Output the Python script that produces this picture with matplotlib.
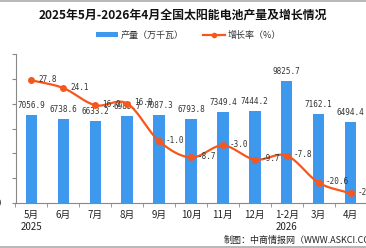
import numpy as np
import matplotlib
matplotlib.use("Agg")
import matplotlib.pyplot as plt
from matplotlib.lines import Line2D
from matplotlib.patches import Patch

plt.rcParams['font.family'] = ['Noto Sans CJK SC', 'DejaVu Sans']

months = ["5月\n2025", "6月", "7月", "8月", "9月", "10月", "11月", "12月", "1-2月\n2026", "3月", "4月"]
output = [7056.9, 6738.6, 6633.2, 6985.7, 7087.3, 6793.8, 7349.4, 7444.2, 9825.7, 7162.1, 6494.4]
growth = [27.8, 24.1, 16.0, 16.8, -1.0, -8.7, -3.0, -9.7, -7.8, -20.6, -25.6]
left_ticks = [0, 2000, 4000, 6000, 8000, 10000, 12000]

BAR = "#3d98ee"
LINE = "#f7561c"

W, H = 366, 248
fig = plt.figure(figsize=(W / 100, H / 100), dpi=100)
ax = fig.add_axes([15.5 / W, 1 - 203 / H, 1 - 15.5 / W + 0.5 / W, (203 - 54) / H])
x = np.arange(len(months))

ax.bar(x, output, width=0.36, color=BAR, zorder=2)
ax.set_xlim(-0.5, len(months) - 0.5)
ax.set_ylim(0, 12000)
ax.set_yticks(left_ticks)
ax.set_yticklabels([str(v) for v in left_ticks], fontsize=6.5, family='DejaVu Sans Mono', color='#333333')
ax.set_xticks(x)
ax.set_xticklabels(months, fontsize=7, color='#222222', linespacing=1.3)
ax.set_xticks(np.arange(-0.5, len(months) + 0.5, 1), minor=True)
ax.tick_params(axis='x', which='major', length=0, pad=5)
ax.tick_params(axis='x', which='minor', length=3, color='#888888', direction='out')
ax.tick_params(axis='y', length=3, color='#888888', pad=7.5)
for s in ['top', 'right']:
    ax.spines[s].set_visible(False)
for s in ['left', 'bottom']:
    ax.spines[s].set_color('#888888')
    ax.spines[s].set_linewidth(0.8)

for xi, v in zip(x, output):
    ax.annotate(f"{v:.1f}", (xi, v), xytext=(0, 5), textcoords='offset pixels',
                ha='center', va='bottom', fontsize=5.5, family='DejaVu Sans Mono', color='#333333', zorder=5)

ax2 = ax.twinx()
ax2.set_ylim(-30.2, 40.2)
ax2.set_xlim(-0.5, len(months) - 0.5)
ax2.axis('off')

# smooth curve through the points (Catmull-Rom)
def catmull(xs, ys, n=20):
    P = np.column_stack([xs, ys]).astype(float)
    P = np.vstack([P[0] * 2 - P[1], P, P[-1] * 2 - P[-2]])
    out = []
    for i in range(1, len(P) - 2):
        p0, p1, p2, p3 = P[i - 1], P[i], P[i + 1], P[i + 2]
        for t in np.linspace(0, 1, n, endpoint=False):
            t2, t3 = t * t, t * t * t
            out.append(0.5 * ((2 * p1) + (-p0 + p2) * t + (2 * p0 - 5 * p1 + 4 * p2 - p3) * t2 + (-p0 + 3 * p1 - 3 * p2 + p3) * t3))
    out.append(P[-2])
    out = np.array(out)
    return out[:, 0], out[:, 1]

sx, sy = catmull(x, growth)
ax2.plot(sx, sy, color=LINE, lw=1.6, zorder=4, solid_capstyle='round')
ax2.plot(x, growth, 'o', color=LINE, ms=4, zorder=5)
for xi, g in zip(x, growth):
    ax2.annotate(f"{g:.1f}", (xi, g), xytext=(7, 1), textcoords='offset pixels',
                 ha='left', va='center', fontsize=5.5, family='DejaVu Sans Mono', color='#333333', zorder=6)

fig.text(0.5, 1 - 15 / H, "2025年5月-2026年4月全国太阳能电池产量及增长情况", ha='center', va='center',
         fontsize=8.6, fontweight='bold', color='#111111')

handles = [Patch(facecolor=BAR, edgecolor='none'),
           Line2D([0], [0], color=LINE, lw=1.6, marker='o', ms=3)]
fig.legend(handles, ["产量（万千瓦）", "增长率（%）"], loc='center', bbox_to_anchor=(0.515, 1 - 35 / H),
           ncol=2, frameon=False, fontsize=6.5, handlelength=2.4, handleheight=0.5, columnspacing=2.2,
           handletextpad=0.3, labelcolor='#333333')

fig.text(224 / W, 1 - 240 / H, "制图：中商情报网（WWW.ASKCI.COM）", ha='left', va='center', fontsize=6.5, color='#222222')

# border lines
fig.add_artist(Line2D([0, 1], [1 - 0.5 / H, 1 - 0.5 / H], color='#aaaaaa', lw=1.2, transform=fig.transFigure))
fig.add_artist(Line2D([0, 1], [1.0 / H, 1.0 / H], color='#aaaaaa', lw=1.2, transform=fig.transFigure))

fig.savefig("out.png", dpi=100)
